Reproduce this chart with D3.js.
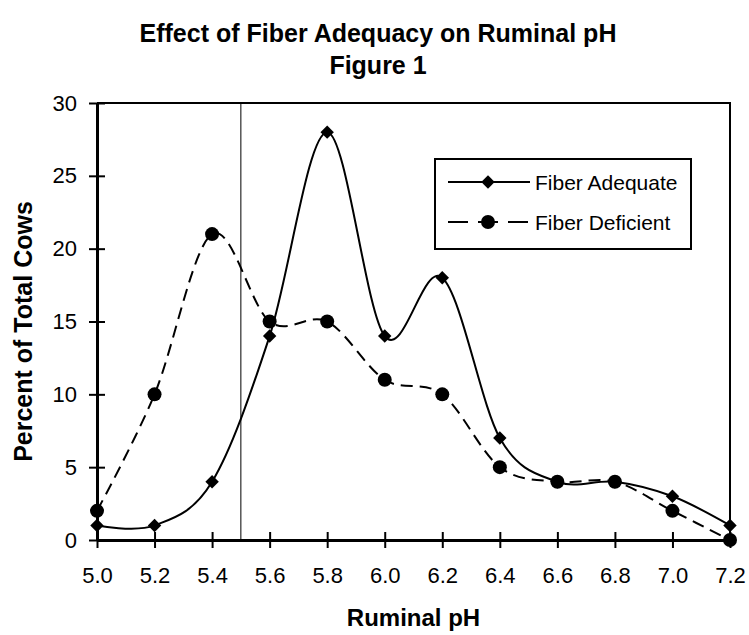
<!DOCTYPE html>
<html>
<head>
<meta charset="utf-8">
<script src="https://cdn.jsdelivr.net/npm/d3@7"></script>
<style>
  body { margin: 0; background: #fff; }
  text { font-family: "Liberation Sans", Arial, sans-serif; fill: #000; }
</style>
</head>
<body>
<div id="chart"></div>
<script>
"use strict";

// chart data
const phValues = [5.0, 5.2, 5.4, 5.6, 5.8, 6.0, 6.2, 6.4, 6.6, 6.8, 7.0, 7.2];
const fiberAdequate = [1, 1, 4, 14, 28, 14, 18, 7, 4, 4, 3, 1];
const fiberDeficient = [2, 10, 21, 15, 15, 11, 10, 5, 4, 4, 2, 0];
const yTicks = [0, 5, 10, 15, 20, 25, 30];
const cutoffPh = 5.5;
const seriesNames = ["Fiber Adequate", "Fiber Deficient"];

const msm = {
    width: 749,
    height: 635,
    left: 97,
    right: 730,
    top: 103,
    bottom: 540
}
const fontFam = "'Liberation Sans', Arial, sans-serif";

let svg = d3.select("#chart")
    .append("svg")
    .attr("width", msm.width)
    .attr("height", msm.height);

// scales
let xScale = d3.scaleLinear()
    .domain([5.0, 7.2])
    .range([msm.left, msm.right]);

let yScale = d3.scaleLinear()
    .domain([0, 30])
    .range([msm.bottom, msm.top]);

// plot frame (top + right)
svg.append("path")
    .attr("d", "M" + msm.left + "," + msm.top + "H" + msm.right + "V" + msm.bottom)
    .attr("fill", "none")
    .attr("stroke", "#000")
    .attr("stroke-width", 2);

// threshold line
svg.append("line")
    .attr("x1", xScale(cutoffPh))
    .attr("x2", xScale(cutoffPh))
    .attr("y1", msm.top)
    .attr("y2", msm.bottom)
    .attr("stroke", "#000")
    .attr("stroke-width", 1);

// x axis, ticks cross the line
let xAxis = d3.axisBottom(xScale)
    .tickValues(phValues)
    .tickFormat(d3.format(".1f"))
    .tickSizeInner(8)
    .tickSizeOuter(0)
    .tickPadding(19);
let gx = svg.append("g")
    .attr("transform", "translate(0," + msm.bottom + ")")
    .call(xAxis);
gx.select(".domain").attr("stroke-width", 3);
gx.selectAll(".tick line").attr("y1", -8).attr("stroke-width", 2);
gx.selectAll(".tick text")
    .style("font-size", "22px")
    .style("font-family", fontFam);

// y axis
let yAxis = d3.axisLeft(yScale)
    .tickValues(yTicks)
    .tickSizeInner(8)
    .tickSizeOuter(0)
    .tickPadding(12);
let gy = svg.append("g")
    .attr("transform", "translate(" + msm.left + ",0)")
    .call(yAxis);
gy.select(".domain").attr("stroke-width", 3);
gy.selectAll(".tick line").attr("x1", 8).attr("stroke-width", 2);
gy.selectAll(".tick text")
    .style("font-size", "22px")
    .style("font-family", fontFam);

// smoothed lines
let line = d3.line()
    .x((d) => xScale(d[0]))
    .y((d) => yScale(d[1]))
    .curve(d3.curveCardinal.tension(0));

let adequatePts = phValues.map((p, i) => [p, fiberAdequate[i]]);
let deficientPts = phValues.map((p, i) => [p, fiberDeficient[i]]);

svg.append("path")
    .datum(deficientPts)
    .attr("d", line)
    .attr("fill", "none")
    .attr("stroke", "#000")
    .attr("stroke-width", 2)
    .attr("stroke-dasharray", "12,7");

svg.append("path")
    .datum(adequatePts)
    .attr("d", line)
    .attr("fill", "none")
    .attr("stroke", "#000")
    .attr("stroke-width", 2);

let diamond = d3.symbol().type(d3.symbolSquare).size(90);

svg.selectAll(".dot")
    .data(deficientPts)
    .enter()
    .append("circle")
    .attr("class", "dot")
    .attr("cx", (d) => xScale(d[0]))
    .attr("cy", (d) => yScale(d[1]))
    .attr("r", 7)
    .attr("fill", "#000");

svg.selectAll(".diamond")
    .data(adequatePts)
    .enter()
    .append("path")
    .attr("class", "diamond")
    .attr("d", diamond)
    .attr("transform", (d) => "translate(" + xScale(d[0]) + "," + yScale(d[1]) + ") rotate(45)")
    .attr("fill", "#000");

// legend
let legend = svg.append("g");
legend.append("rect")
    .attr("x", 435)
    .attr("y", 159)
    .attr("width", 256)
    .attr("height", 90)
    .attr("fill", "#fff")
    .attr("stroke", "#000")
    .attr("stroke-width", 2);

legend.append("line")
    .attr("x1", 448).attr("x2", 530)
    .attr("y1", 182).attr("y2", 182)
    .attr("stroke", "#000").attr("stroke-width", 2);
legend.append("path")
    .attr("d", diamond)
    .attr("transform", "translate(488,182) rotate(45)")
    .attr("fill", "#000");
legend.append("text")
    .attr("x", 535).attr("y", 189.5)
    .style("font-size", "21px")
    .text(seriesNames[0]);

legend.append("line")
    .attr("x1", 448).attr("x2", 530)
    .attr("y1", 222).attr("y2", 222)
    .attr("stroke", "#000").attr("stroke-width", 2)
    .attr("stroke-dasharray", "20,10");
legend.append("circle")
    .attr("cx", 488).attr("cy", 222).attr("r", 7)
    .attr("fill", "#000");
legend.append("text")
    .attr("x", 535).attr("y", 229.5)
    .style("font-size", "21px")
    .text(seriesNames[1]);

// titles and axis labels
svg.append("text")
    .attr("x", 378).attr("y", 42)
    .attr("text-anchor", "middle")
    .style("font-size", "25px").style("font-weight", "bold")
    .text("Effect of Fiber Adequacy on Ruminal pH");
svg.append("text")
    .attr("x", 378).attr("y", 74)
    .attr("text-anchor", "middle")
    .style("font-size", "25px").style("font-weight", "bold")
    .text("Figure 1");

svg.append("text")
    .attr("x", (msm.left + msm.right) / 2).attr("y", 626)
    .attr("text-anchor", "middle")
    .style("font-size", "24px").style("font-weight", "bold")
    .text("Ruminal pH");

svg.append("text")
    .attr("transform", "translate(32," + ((msm.top + msm.bottom) / 2 + 10) + ") rotate(-90)")
    .attr("text-anchor", "middle")
    .style("font-size", "25px").style("font-weight", "bold")
    .text("Percent of Total Cows");
</script>
</body>
</html>
